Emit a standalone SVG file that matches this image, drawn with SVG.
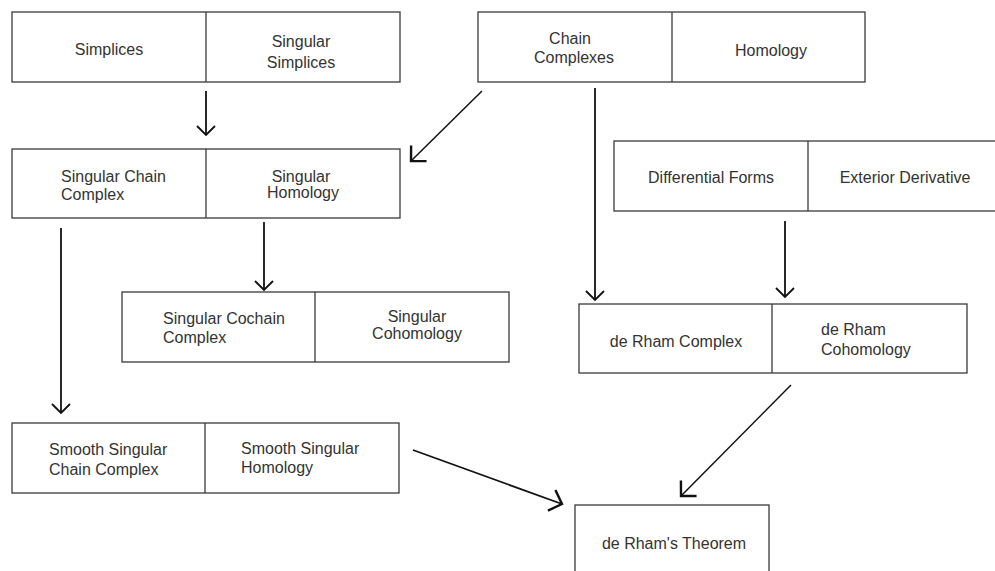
<svg xmlns="http://www.w3.org/2000/svg" width="995" height="571" viewBox="0 0 995 571">
<style>
.box{fill:#fff;stroke:#3a3a3a;stroke-width:1.3}
.div{stroke:#3a3a3a;stroke-width:1.3}
text{font-family:"Liberation Sans",Arial,sans-serif;font-size:16px;fill:#333}
.c{text-anchor:middle}
.arr{stroke:#111;stroke-width:1.8;fill:none}
.arr2{stroke:#111;stroke-width:1.5;fill:none}
</style>
<defs>
<marker id="hs" markerUnits="userSpaceOnUse" markerWidth="24" markerHeight="24" viewBox="-12 -12 24 24" refX="0" refY="0" orient="auto" overflow="visible">
<path d="M-9,-9 L0,0 L-9,9" fill="none" stroke="#111" stroke-width="1.8"/>
</marker>
<marker id="hb" markerUnits="userSpaceOnUse" markerWidth="32" markerHeight="32" viewBox="-16 -16 32 32" refX="0" refY="0" orient="auto" overflow="visible">
<path d="M-11,-11 L0,0 L-11,11" fill="none" stroke="#111" stroke-width="2.4"/>
</marker>
</defs>
<rect width="995" height="571" fill="#fff"/>

<g id="simplices">
<rect class="box" x="12" y="12" width="388" height="70"/>
<line class="div" x1="206" y1="12" x2="206" y2="82"/>
<text class="c" x="109" y="55">Simplices</text>
<text class="c" x="301" y="47">Singular</text>
<text class="c" x="301" y="68">Simplices</text>
</g>

<g id="chain-complexes">
<rect class="box" x="478" y="12" width="387" height="70"/>
<line class="div" x1="672" y1="12" x2="672" y2="82"/>
<text class="c" x="570" y="44">Chain</text>
<text class="c" x="574" y="63">Complexes</text>
<text class="c" x="771" y="56">Homology</text>
</g>

<g id="singular-chain-complex">
<rect class="box" x="12" y="149" width="388" height="69"/>
<line class="div" x1="206" y1="149" x2="206" y2="218"/>
<text x="61" y="182">Singular Chain</text>
<text x="61" y="200">Complex</text>
<text class="c" x="301" y="182">Singular</text>
<text class="c" x="303" y="198">Homology</text>
</g>

<g id="differential-forms">
<rect class="box" x="614" y="141" width="390" height="70"/>
<line class="div" x1="808" y1="141" x2="808" y2="211"/>
<text class="c" x="711" y="183">Differential Forms</text>
<text class="c" x="905" y="183">Exterior Derivative</text>
</g>

<g id="singular-cochain-complex">
<rect class="box" x="122" y="292" width="387" height="70"/>
<line class="div" x1="315" y1="292" x2="315" y2="362"/>
<text x="163" y="324">Singular Cochain</text>
<text x="163" y="343">Complex</text>
<text class="c" x="417" y="322">Singular</text>
<text class="c" x="417" y="339">Cohomology</text>
</g>

<g id="de-rham-complex">
<rect class="box" x="579" y="304" width="388" height="69"/>
<line class="div" x1="772" y1="304" x2="772" y2="373"/>
<text class="c" x="676" y="347">de Rham Complex</text>
<text x="821" y="335">de Rham</text>
<text x="821" y="355">Cohomology</text>
</g>

<g id="smooth-singular">
<rect class="box" x="12" y="423" width="387" height="70"/>
<line class="div" x1="205" y1="423" x2="205" y2="493"/>
<text x="49" y="455">Smooth Singular</text>
<text x="49" y="475">Chain Complex</text>
<text x="241" y="454">Smooth Singular</text>
<text x="241" y="473">Homology</text>
</g>

<g id="de-rham-theorem">
<rect class="box" x="575" y="505" width="194" height="80"/>
<text class="c" x="674" y="549">de Rham's Theorem</text>
</g>

<g id="connectors">
<line class="arr" x1="206" y1="91" x2="206" y2="135" marker-end="url(#hs)"/>
<line class="arr2" x1="482" y1="91" x2="411" y2="161" marker-end="url(#hb)"/>
<line class="arr" x1="61" y1="228" x2="61" y2="413" marker-end="url(#hs)"/>
<line class="arr" x1="264" y1="222" x2="264" y2="290" marker-end="url(#hs)"/>
<line class="arr" x1="595" y1="88" x2="595" y2="300" marker-end="url(#hs)"/>
<line class="arr" x1="785" y1="221" x2="785" y2="297" marker-end="url(#hs)"/>
<line class="arr2" x1="791" y1="385" x2="681" y2="496" marker-end="url(#hb)"/>
<line class="arr" x1="413" y1="450" x2="562" y2="504" marker-end="url(#hb)"/>
</g>
</svg>
